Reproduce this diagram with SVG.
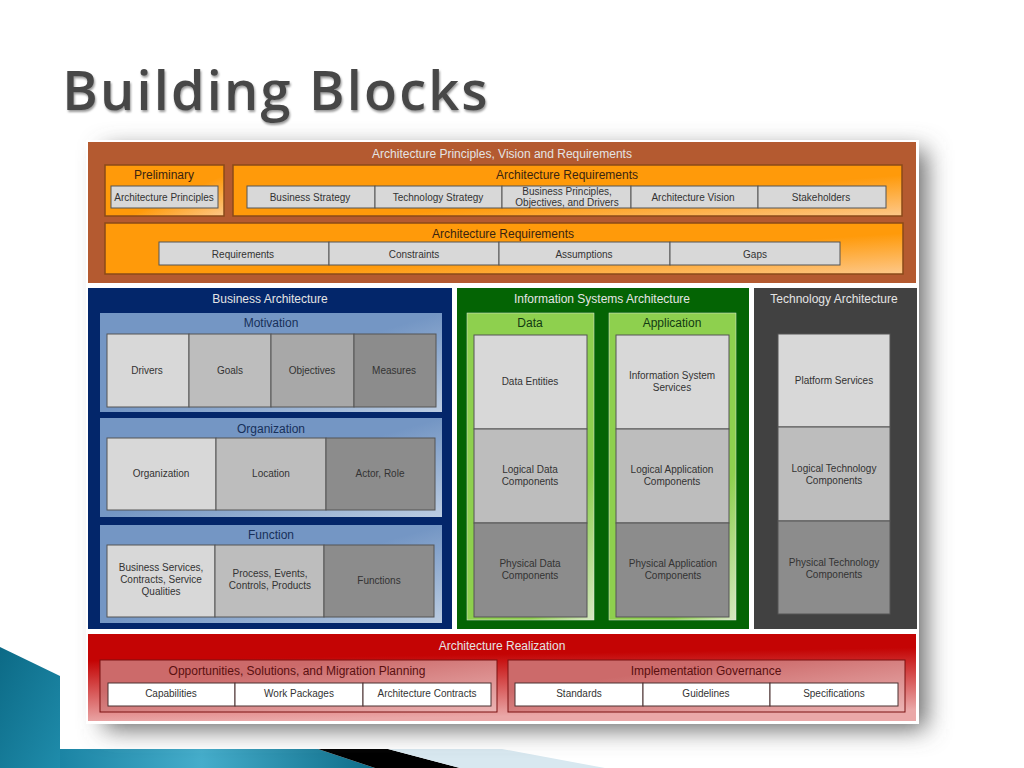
<svg xmlns="http://www.w3.org/2000/svg" width="1024" height="768" viewBox="0 0 1024 768">
<style>
text{font-family:"Liberation Sans",Arial,sans-serif;text-anchor:middle;fill:#333;font-size:10px}
.h{font-size:12px;fill:#3a2410}
.w{font-size:12px;fill:#e4e4e4}
.hb{font-size:12px;fill:#17305a}
.hg{font-size:12px;fill:#123a12}
.hr{font-size:12px;fill:#5a1010}
.lg{fill:#d8d8d8;stroke:#555;stroke-width:1}
.mg{fill:#bdbdbd;stroke:#555;stroke-width:1}
.dg{fill:#8c8c8c;stroke:#555;stroke-width:1}
.wb{fill:#fff;stroke:#4a3030;stroke-width:1}
.or{fill:url(#o);stroke:#8a4a18;stroke-width:1.5}
.bl{fill:url(#b)}
.gr{fill:url(#g);stroke:#e8e8e8;stroke-width:.5}
.rd{fill:url(#r2);stroke:#7a1010;stroke-width:1}
</style>
<defs>
<linearGradient id="o" x1="0" y1="0" x2="1" y2="1"><stop offset=".6" stop-color="#ff9a0a"/><stop offset="1" stop-color="#fdc88a"/></linearGradient>
<linearGradient id="b" x1="0" y1="0" x2="1" y2="1"><stop offset=".5" stop-color="#7496c4"/><stop offset="1" stop-color="#bccde2"/></linearGradient>
<linearGradient id="g" x1="0" y1="0" x2="1" y2="1"><stop offset=".75" stop-color="#8ed04e"/><stop offset="1" stop-color="#d8e8c4"/></linearGradient>
<linearGradient id="r1" x1="0" y1="0" x2=".15" y2="1"><stop offset=".3" stop-color="#c40404"/><stop offset="1" stop-color="#eaa8a8"/></linearGradient>
<linearGradient id="r2" x1="0" y1="0" x2="1" y2="1"><stop offset=".3" stop-color="#cc6a6a"/><stop offset="1" stop-color="#ecb4b4"/></linearGradient>
<linearGradient id="t" gradientUnits="userSpaceOnUse" x1="60" y1="0" x2="375" y2="0"><stop offset="0" stop-color="#1b84a4"/><stop offset=".45" stop-color="#45adcb"/><stop offset="1" stop-color="#0d6c88"/></linearGradient>
<linearGradient id="w" x1="0" y1="0" x2="1" y2="1"><stop offset="0" stop-color="#0c6a86"/><stop offset="1" stop-color="#1f8cab"/></linearGradient>
<filter id="s" x="-10%" y="-10%" width="120%" height="125%"><feGaussianBlur stdDeviation="12"/></filter>
<filter id="ts" x="-5%" y="-20%" width="110%" height="140%"><feDropShadow dx="1" dy="2" stdDeviation="1" flood-color="#999"/></filter>
</defs>
<rect width="1024" height="768" fill="#fff"/>
<g id="background">
<polygon points="0,647 60,676 60,768 0,768" fill="url(#w)"/>
<polygon points="60,749 318,749 375,768 60,768" fill="url(#t)"/>
<polygon points="318,749 388,749 460,768 375,768" fill="#000"/>
<polygon points="388,749 502,749 605,768 460,768" fill="#d8e8f0"/>
</g>
<text id="title" x="276" y="110" style="font-family:'Open Sans','Noto Sans',sans-serif;font-size:54px;font-weight:600;fill:#474747;letter-spacing:2.2px" filter="url(#ts)">Building Blocks</text>
<rect x="104" y="150" width="822" height="579" fill="#666" filter="url(#s)"/>
<rect x="86" y="140" width="833" height="584" fill="#fff"/>
<g id="principles">
<rect x="88" y="142" width="828" height="141" fill="#b45a30"/>
<text class="w" x="502" y="158">Architecture Principles, Vision and Requirements</text>
<g id="preliminary">
<rect x="105" y="165" width="119" height="51" class="or"/>
<text class="h" x="164" y="179">Preliminary</text>
<rect x="111" y="186" width="107" height="22" class="lg"/>
<text x="164" y="201">Architecture Principles</text>
</g>
<g id="arch-req-top">
<rect x="233" y="165" width="669" height="51" class="or"/>
<text class="h" x="567" y="179">Architecture Requirements</text>
<rect x="247" y="186" width="128" height="22" class="lg"/><text x="310" y="201">Business Strategy</text>
<rect x="375" y="186" width="127" height="22" class="lg"/><text x="438" y="201">Technology Strategy</text>
<rect x="502" y="186" width="129" height="22" class="lg"/><text x="567" y="195">Business Principles,</text><text x="567" y="206">Objectives, and Drivers</text>
<rect x="631" y="186" width="127" height="22" class="lg"/><text x="693" y="201">Architecture Vision</text>
<rect x="758" y="186" width="128" height="22" class="lg"/><text x="821" y="201">Stakeholders</text>
</g>
<g id="arch-req-bottom">
<rect x="105" y="223" width="798" height="51" class="or"/>
<text class="h" x="503" y="238">Architecture Requirements</text>
<rect x="159" y="242" width="170" height="23" class="lg"/><text x="243" y="258">Requirements</text>
<rect x="329" y="242" width="170" height="23" class="lg"/><text x="414" y="258">Constraints</text>
<rect x="499" y="242" width="171" height="23" class="lg"/><text x="584" y="258">Assumptions</text>
<rect x="670" y="242" width="170" height="23" class="lg"/><text x="755" y="258">Gaps</text>
</g>
</g>
<g id="business">
<rect x="88" y="288" width="364" height="341" fill="#03266a"/>
<text class="w" x="270" y="303">Business Architecture</text>
<g id="motivation">
<rect x="100" y="313" width="342" height="99" class="bl"/>
<text class="hb" x="271" y="327">Motivation</text>
<rect x="107" y="334" width="82" height="73" class="lg"/><text x="147" y="374">Drivers</text>
<rect x="189" y="334" width="82" height="73" class="mg"/><text x="230" y="374">Goals</text>
<rect x="271" y="334" width="83" height="73" class="mg" style="fill:#a8a8a8"/><text x="312" y="374">Objectives</text>
<rect x="354" y="334" width="82" height="73" class="dg"/><text x="394" y="374">Measures</text>
</g>
<g id="organization">
<rect x="100" y="418" width="342" height="99" class="bl"/>
<text class="hb" x="271" y="433">Organization</text>
<rect x="107" y="438" width="109" height="72" class="lg"/><text x="161" y="477">Organization</text>
<rect x="216" y="438" width="110" height="72" class="mg"/><text x="271" y="477">Location</text>
<rect x="326" y="438" width="109" height="72" class="dg"/><text x="380" y="477">Actor, Role</text>
</g>
<g id="function">
<rect x="100" y="525" width="342" height="98" class="bl"/>
<text class="hb" x="271" y="539">Function</text>
<rect x="107" y="545" width="108" height="72" class="lg"/><text x="161" y="571">Business Services,</text><text x="161" y="583">Contracts, Service</text><text x="161" y="595">Qualities</text>
<rect x="215" y="545" width="109" height="72" class="mg"/><text x="270" y="577">Process, Events,</text><text x="270" y="589">Controls, Products</text>
<rect x="324" y="545" width="110" height="72" class="dg"/><text x="379" y="584">Functions</text>
</g>
</g>
<g id="information">
<rect x="457" y="288" width="292" height="341" fill="#046404"/>
<text class="w" x="602" y="303">Information Systems Architecture</text>
<g id="data">
<rect x="467" y="313" width="127" height="307" class="gr"/>
<text class="hg" x="530" y="327">Data</text>
<rect x="474" y="335" width="113" height="94" class="lg"/><text x="530" y="385">Data Entities</text>
<rect x="474" y="429" width="113" height="94" class="mg"/><text x="530" y="473">Logical Data</text><text x="530" y="485">Components</text>
<rect x="474" y="523" width="113" height="94" class="dg"/><text x="530" y="567">Physical Data</text><text x="530" y="579">Components</text>
</g>
<g id="application">
<rect x="609" y="313" width="127" height="307" class="gr"/>
<text class="hg" x="672" y="327">Application</text>
<rect x="616" y="335" width="113" height="94" class="lg"/><text x="672" y="379">Information System</text><text x="672" y="391">Services</text>
<rect x="616" y="429" width="113" height="94" class="mg"/><text x="672" y="473">Logical Application</text><text x="672" y="485">Components</text>
<rect x="616" y="523" width="113" height="94" class="dg"/><text x="673" y="567">Physical Application</text><text x="673" y="579">Components</text>
</g>
</g>
<g id="technology">
<rect x="754" y="288" width="163" height="341" fill="#414141"/>
<text class="w" x="834" y="303">Technology Architecture</text>
<rect x="778" y="334" width="112" height="93" class="lg"/><text x="834" y="384">Platform Services</text>
<rect x="778" y="427" width="112" height="94" class="mg"/><text x="834" y="472">Logical Technology</text><text x="834" y="484">Components</text>
<rect x="778" y="521" width="112" height="93" class="dg"/><text x="834" y="566">Physical Technology</text><text x="834" y="578">Components</text>
</g>
<g id="realization">
<rect x="88" y="634" width="828" height="87" fill="url(#r1)"/>
<text class="w" x="502" y="650">Architecture Realization</text>
<g id="opportunities">
<rect x="100" y="660" width="397" height="52" class="rd"/>
<text class="hr" x="297" y="675">Opportunities, Solutions, and Migration Planning</text>
<rect x="108" y="683" width="127" height="23" class="wb"/><text x="171" y="697">Capabilities</text>
<rect x="235" y="683" width="128" height="23" class="wb"/><text x="299" y="697">Work Packages</text>
<rect x="363" y="683" width="128" height="23" class="wb"/><text x="427" y="697">Architecture Contracts</text>
</g>
<g id="governance">
<rect x="508" y="660" width="397" height="52" class="rd"/>
<text class="hr" x="706" y="675">Implementation Governance</text>
<rect x="515" y="683" width="128" height="23" class="wb"/><text x="579" y="697">Standards</text>
<rect x="643" y="683" width="127" height="23" class="wb"/><text x="706" y="697">Guidelines</text>
<rect x="770" y="683" width="128" height="23" class="wb"/><text x="834" y="697">Specifications</text>
</g>
</g>
<g id="connectors"/>
</svg>
